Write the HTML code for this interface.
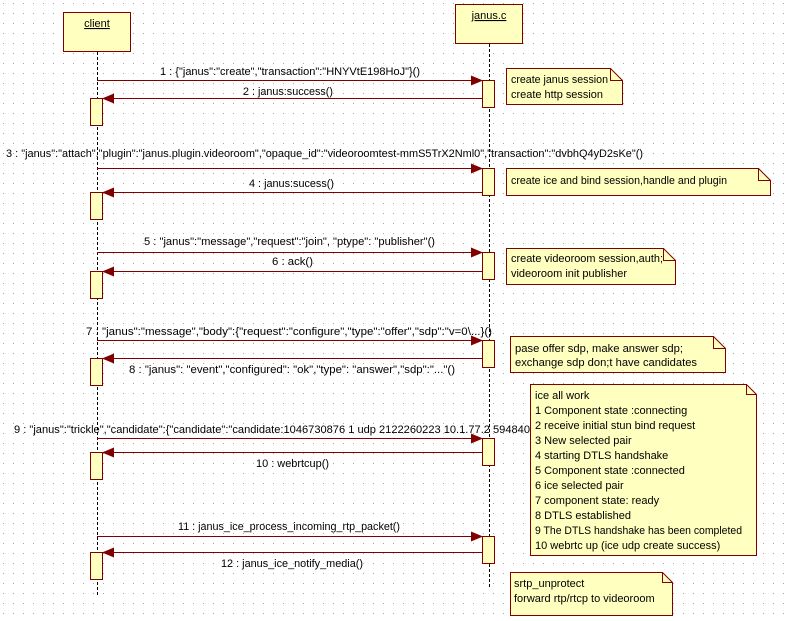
<!DOCTYPE html>
<html><head><meta charset="utf-8"><style>
html,body{margin:0;padding:0;background:#fff}
svg{display:block}
text{font-family:"Liberation Sans",sans-serif;font-size:11px;fill:#000}
</style></head><body>
<svg width="787" height="621" xmlns="http://www.w3.org/2000/svg">
<defs>
<pattern id="g" width="10" height="10" patternUnits="userSpaceOnUse" x="3" y="3"><rect x="0" y="0" width="1" height="1" fill="#a8a8a8"/></pattern>
<marker id="a" markerWidth="12" markerHeight="10" refX="11" refY="5" orient="auto" markerUnits="userSpaceOnUse"><path d="M0,0 L12,5 L0,10 z" fill="#800000"/></marker>
</defs>
<rect width="787" height="621" fill="url(#g)"/>
<g stroke="#000" stroke-dasharray="3,2" stroke-width="1">
<line x1="97.5" y1="52" x2="97.5" y2="596"/>
<line x1="489.5" y1="44" x2="489.5" y2="588"/>
</g>
<g fill="#ffffc0" stroke="#800000" stroke-width="1">
<rect x="63.5" y="12.5" width="67" height="39"/>
<rect x="455.5" y="4.5" width="67" height="39"/>
</g>
<text x="97" y="27" text-anchor="middle" text-decoration="underline">client</text>
<text x="489" y="19" text-anchor="middle" text-decoration="underline">janus.c</text>
<g fill="#ffffc0" stroke="#800000">
<rect x="482.5" y="80.5" width="12" height="27"/>
<rect x="90.5" y="98.5" width="12" height="27"/>
<rect x="482.5" y="168.5" width="12" height="27"/>
<rect x="90.5" y="192.5" width="12" height="27"/>
<rect x="482.5" y="252.5" width="12" height="27"/>
<rect x="90.5" y="271.5" width="12" height="27"/>
<rect x="482.5" y="340.5" width="12" height="27"/>
<rect x="90.5" y="358.5" width="12" height="27"/>
<rect x="482.5" y="438.5" width="12" height="27"/>
<rect x="90.5" y="452.5" width="12" height="27"/>
<rect x="482.5" y="536.5" width="12" height="27"/>
<rect x="90.5" y="552.5" width="12" height="27"/>
</g>
<g stroke="#800000" stroke-width="1" marker-end="url(#a)">
<line x1="97" y1="80.5" x2="482" y2="80.5"/>
<line x1="482" y1="98.5" x2="103" y2="98.5"/>
<line x1="97" y1="168.5" x2="482" y2="168.5"/>
<line x1="482" y1="192.5" x2="103" y2="192.5"/>
<line x1="97" y1="252.5" x2="482" y2="252.5"/>
<line x1="482" y1="271.5" x2="103" y2="271.5"/>
<line x1="97" y1="340.5" x2="482" y2="340.5"/>
<line x1="482" y1="358.5" x2="103" y2="358.5"/>
<line x1="97" y1="438.5" x2="482" y2="438.5"/>
<line x1="482" y1="452.5" x2="103" y2="452.5"/>
<line x1="97" y1="536.5" x2="482" y2="536.5"/>
<line x1="482" y1="552.5" x2="103" y2="552.5"/>
</g>
<text x="160" y="75" textLength="260" lengthAdjust="spacingAndGlyphs">1 : {"janus":"create","transaction":"HNYVtE198HoJ"}()</text>
<text x="243" y="95" textLength="90" lengthAdjust="spacingAndGlyphs">2 : janus:success()</text>
<text x="6" y="157" textLength="637" lengthAdjust="spacingAndGlyphs">3 : "janus":"attach","plugin":"janus.plugin.videoroom","opaque_id":"videoroomtest-mmS5TrX2Nml0","transaction":"dvbhQ4yD2sKe"()</text>
<text x="249" y="187" textLength="85" lengthAdjust="spacingAndGlyphs">4 : janus:sucess()</text>
<text x="144" y="245" textLength="291" lengthAdjust="spacingAndGlyphs">5 : "janus":"message","request":"join", "ptype": "publisher"()</text>
<text x="272" y="265" textLength="41" lengthAdjust="spacingAndGlyphs">6 : ack()</text>
<text x="86" y="335" textLength="406" lengthAdjust="spacingAndGlyphs">7 : "janus":"message","body":{"request":"configure","type":"offer","sdp":"v=0\...}()</text>
<text x="129" y="373" textLength="326" lengthAdjust="spacingAndGlyphs">8 : "janus": "event","configured": "ok","type": "answer","sdp":"..."()</text>
<text x="14" y="433" textLength="516" lengthAdjust="spacingAndGlyphs">9 : "janus":"trickle","candidate":{"candidate":"candidate:1046730876 1 udp 2122260223 10.1.77.2 594840</text>
<text x="256" y="467" textLength="73" lengthAdjust="spacingAndGlyphs">10 : webrtcup()</text>
<text x="178" y="530" textLength="222" lengthAdjust="spacingAndGlyphs">11 : janus_ice_process_incoming_rtp_packet()</text>
<text x="221" y="567" textLength="142" lengthAdjust="spacingAndGlyphs">12 : janus_ice_notify_media()</text>
<g fill="#ffffc0" stroke="#800000">
<path d="M506.5,68.5 H610.5 L622.5,80.5 V104.5 H506.5 Z"/>
<path d="M506.5,168.5 H758.5 L770.5,180.5 V195.5 H506.5 Z"/>
<path d="M506.5,248.5 H663.5 L675.5,260.5 V284.5 H506.5 Z"/>
<path d="M510.5,336.5 H713.5 L725.5,348.5 V372.5 H510.5 Z"/>
<path d="M530.5,384.5 H746.5 L756.5,394.5 V555.5 H530.5 Z"/>
<path d="M510.5,572.5 H662.5 L672.5,582.5 V615.5 H510.5 Z"/>
</g>
<g fill="none" stroke="#800000">
<path d="M610.5,68.5 V80.5 H622.5"/>
<path d="M758.5,168.5 V180.5 H770.5"/>
<path d="M663.5,248.5 V260.5 H675.5"/>
<path d="M713.5,336.5 V348.5 H725.5"/>
<path d="M746.5,384.5 V394.5 H756.5"/>
<path d="M662.5,572.5 V582.5 H672.5"/>
</g>
<text x="511" y="83" textLength="97" lengthAdjust="spacingAndGlyphs">create janus session</text>
<text x="511" y="98" textLength="92" lengthAdjust="spacingAndGlyphs">create http session</text>
<text x="511" y="184" textLength="216" lengthAdjust="spacingAndGlyphs">create ice and bind session,handle and plugin</text>
<text x="511" y="262" textLength="152" lengthAdjust="spacingAndGlyphs">create videoroom session,auth;</text>
<text x="511" y="277" textLength="116" lengthAdjust="spacingAndGlyphs">videoroom  init publisher</text>
<text x="515" y="352" textLength="168" lengthAdjust="spacingAndGlyphs">pase offer sdp, make answer sdp;</text>
<text x="515" y="366" textLength="182" lengthAdjust="spacingAndGlyphs"> exchange sdp don;t have candidates</text>
<g>
<text x="535" y="399">ice all work</text>
<text x="535" y="414">1 Component state :connecting</text>
<text x="535" y="429">2 receive initial stun bind request</text>
<text x="535" y="444">3 New selected pair</text>
<text x="535" y="459">4 starting DTLS handshake</text>
<text x="535" y="474">5 Component state :connected</text>
<text x="535" y="489">6 ice selected pair</text>
<text x="535" y="504">7 component state: ready</text>
<text x="535" y="519">8 DTLS established</text>
<text x="535" y="534" textLength="207" lengthAdjust="spacingAndGlyphs">9 The DTLS handshake has been completed</text>
<text x="535" y="549">10 webrtc up (ice udp create success)</text>
</g>
<text x="514" y="587">srtp_unprotect</text>
<text x="514" y="602">forward rtp/rtcp to videoroom</text>
</svg>
</body></html>
